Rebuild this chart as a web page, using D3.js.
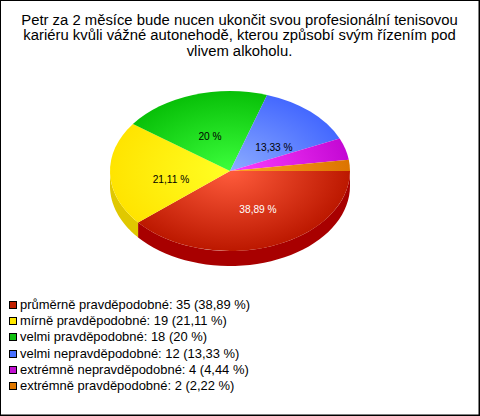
<!DOCTYPE html>
<html><head><meta charset="utf-8">
<script src="https://cdn.jsdelivr.net/npm/d3@7"></script>
<style>html,body{margin:0;padding:0;background:#fff}svg{display:block}text{font-family:"Liberation Sans",Arial,sans-serif}</style>
</head><body><div id="c"></div>
<script>
const titleLines = ["Petr za 2 měsíce bude nucen ukončit svou profesionální tenisovou","kariéru kvůli vážné autonehodě, kterou způsobí svým řízením pod","vlivem alkoholu."];
const categories = ["průměrně pravděpodobné","mírně pravděpodobné","velmi pravděpodobné","velmi nepravděpodobné","extrémně nepravděpodobné","extrémně pravděpodobné"];
const counts = [35,19,18,12,4,2];
const percents = ["38,89","21,11","20","13,33","4,44","2,22"];
const innerColors = ["#ff5c3c","#ffff24","#3cff3c","#8cacff","#ff40ff","#ffa424"];
const outerColors = ["#bc1800","#ffe400","#08c008","#4468ff","#c408d4","#dc7400"];
const sideColors = ["#a80000","#e0c800","#089008","#3050c0","#9000a0","#b06000"];
const swatchColors = ["#c02000","#ffe800","#10c010","#4870ff","#c010d0","#e07800"];
const labelColors = ["#fff","#000","#000","#000"];
const labelNudge = [[28,38],[-59,8],[-20,-35],[44,-24]];

const W=480,H=416,cx=230,cy=171,rx=120,ry=80,depth=15;
const svg=d3.select("#c").append("svg").attr("width",W).attr("height",H);
svg.append("rect").attr("x",.5).attr("y",.5).attr("width",W-1.5).attr("height",H-1.5).attr("fill","#fff").attr("stroke","#000");
svg.append("rect").attr("x",W-1).attr("y",0).attr("width",1).attr("height",H).attr("fill","#000");
svg.append("rect").attr("x",0).attr("y",H-1).attr("width",W).attr("height",1).attr("fill","#000");

svg.append("text").attr("text-anchor","middle").attr("font-size",14.85).attr("fill","#000")
 .selectAll("tspan").data(titleLines).join("tspan").attr("x",239.5).attr("y",(d,i)=>24.6+i*15.5).text(d=>d);

const pie=d3.pie().sort(null).startAngle(Math.PI/2).endAngle(Math.PI/2+2*Math.PI);
const arcs=pie(counts);
const defs=svg.append("defs");
arcs.forEach((a,i)=>{
 const g=defs.append("radialGradient").attr("id","g"+i).attr("gradientUnits","userSpaceOnUse").attr("cx",0).attr("cy",0).attr("r",rx);
 g.append("stop").attr("offset",0).attr("stop-color",innerColors[i]);
 g.append("stop").attr("offset",1).attr("stop-color",outerColors[i]);
});
const px=t=>cx+rx*Math.sin(t), py=t=>cy-ry*Math.cos(t);
const side=svg.append("g");
arcs.forEach((a,i)=>{
 const lo=Math.max(a.startAngle,Math.PI/2), hi=Math.min(a.endAngle,3*Math.PI/2);
 if(hi<=lo)return;
 const ts=d3.range(0,41).map(k=>lo+(hi-lo)*k/40);
 const area=d3.area().x(px).y0(py).y1(t=>py(t)+depth);
 side.append("path").attr("d",area(ts)).attr("fill",sideColors[i]);
});
const arc=d3.arc().innerRadius(0).outerRadius(rx);
svg.append("g").attr("transform",`translate(${cx},${cy}) scale(1,${ry/rx})`)
 .selectAll("path").data(arcs).join("path").attr("d",arc).attr("fill",(d,i)=>`url(#g${i})`);
svg.append("g").selectAll("text").data(arcs.slice(0,4)).join("text")
 .attr("text-anchor","middle").attr("font-size",10.2).attr("fill",(d,i)=>labelColors[i])
 .attr("x",(d,i)=>cx+labelNudge[i][0])
 .attr("y",(d,i)=>cy+labelNudge[i][1]+4)
 .text((d,i)=>percents[i]+" %");
const leg=svg.append("g").selectAll("g").data(categories).join("g").attr("transform",(d,i)=>`translate(0,${299+Math.round(i*16.2)})`);
leg.append("rect").attr("x",9.5).attr("y",2.5).attr("width",7).attr("height",7).attr("fill",(d,i)=>swatchColors[i]).attr("stroke","#000");
leg.append("text").attr("x",20).attr("y",10).attr("font-size",12.95).attr("fill","#000").text((d,i)=>`${d}: ${counts[i]} (${percents[i]} %)`);
</script></body></html>
